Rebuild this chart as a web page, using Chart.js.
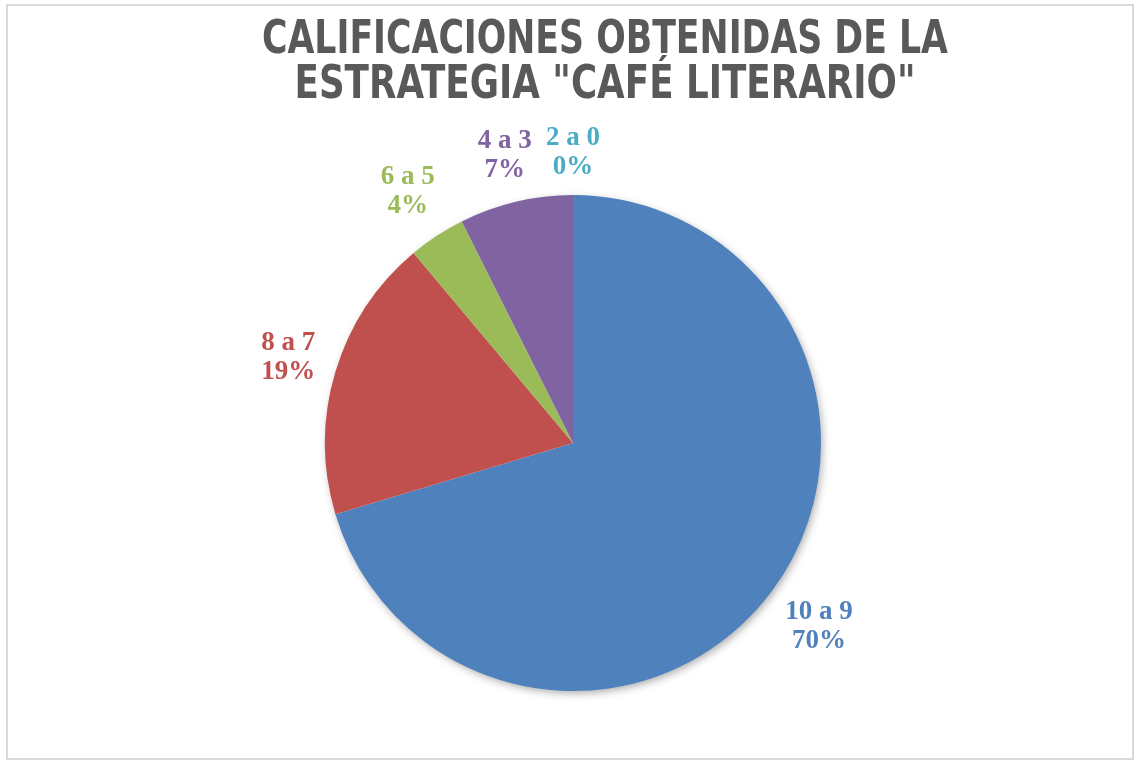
<!DOCTYPE html>
<html>
<head>
<meta charset="utf-8">
<script src="https://cdn.jsdelivr.net/npm/chart.js@4"></script>
<style>
  html, body { margin: 0; padding: 0; background: #fff; }
  #wrap { position: relative; width: 1139px; height: 761px; }
  #frame { position: absolute; left: 6px; top: 4px; width: 1124px; height: 752px; border: 2px solid #d9d9d9; box-sizing: content-box; pointer-events: none; }
</style>
</head>
<body>
<div id="wrap">
  <canvas id="pieChart"></canvas>
  <div id="frame"></div>
</div>
<script>
// Chart data
const categories = ['10 a 9', '8 a 7', '6 a 5', '4 a 3', '2 a 0'];
const counts = [19, 5, 1, 2, 0];
const sliceColors = ['#4F81BD', '#C0504D', '#9BBB59', '#8064A2', '#4BACC6'];
const titleLines = ['CALIFICACIONES OBTENIDAS DE LA', 'ESTRATEGIA "CAFÉ LITERARIO"'];

const total = counts.reduce((a, b) => a + b, 0);

// Title drawn by hand so both lines sit where the original has them
const titlePlugin = {
    id: 'twoLineTitle',
    afterDraw(chart) {
        const ctx = chart.ctx;
        ctx.save();
        ctx.fillStyle = '#595959';
        ctx.font = "bold 46px 'Liberation Sans Narrow', 'DejaVu Sans Condensed', sans-serif";
        ctx.textAlign = 'center';
        ctx.textBaseline = 'middle';
        ctx.fillText(titleLines[0], 605, 41, 686);
        ctx.fillText(titleLines[1], 605, 86, 621);
        ctx.restore();
    }
};

// Soft shadow under the whole pie
const shadowPlugin = {
    id: 'pieShadow',
    beforeDatasetsDraw(chart) {
        const arc = chart.getDatasetMeta(0).data[0];
        if (!arc) return;
        const { x, y, outerRadius } = arc.getProps(['x', 'y', 'outerRadius'], true);
        const ctx = chart.ctx;
        ctx.save();
        ctx.shadowColor = 'rgba(0, 0, 0, 0.35)';
        ctx.shadowBlur = 9;
        ctx.shadowOffsetX = 2;
        ctx.shadowOffsetY = 3;
        ctx.fillStyle = '#ffffff';
        ctx.beginPath();
        ctx.arc(x, y, outerRadius - 1, 0, Math.PI * 2);
        ctx.fill();
        ctx.restore();
    }
};

// Labels outside each slice: category name + percentage
const outsideLabels = {
    id: 'outsideLabels',
    afterDatasetsDraw(chart) {
        const ctx = chart.ctx;
        const meta = chart.getDatasetMeta(0);
        ctx.save();
        ctx.font = "bold 27px 'Liberation Serif', 'DejaVu Serif', serif";
        ctx.textAlign = 'center';
        ctx.textBaseline = 'middle';
        const lineH = 29;
        meta.data.forEach((arc, i) => {
            const p = arc.getProps(['x', 'y', 'startAngle', 'endAngle', 'outerRadius'], true);
            const mid = (p.startAngle + p.endAngle) / 2;
            const dx = Math.cos(mid), dy = Math.sin(mid);
            const pct = Math.round(counts[i] / total * 100) + '%';
            const w = Math.max(ctx.measureText(categories[i]).width, ctx.measureText(pct).width);
            const h = lineH * 2 - 6;
            const r = p.outerRadius + 16;
            const proj = Math.abs(dx) * w / 2 + Math.abs(dy) * h / 2;
            const cx = p.x + dx * (r + proj);
            const cy = p.y + dy * (r + proj);
            ctx.fillStyle = sliceColors[i];
            ctx.fillText(categories[i], cx, cy - lineH / 2);
            ctx.fillText(pct, cx, cy + lineH / 2);
        });
        ctx.restore();
    }
};

new Chart(document.getElementById('pieChart').getContext('2d'), {
    type: 'pie',
    data: {
        labels: categories,
        datasets: [{
            data: counts,
            backgroundColor: sliceColors,
            borderWidth: 0
        }]
    },
    options: {
        responsive: true,
        maintainAspectRatio: false,
        animation: false,
        layout: { padding: { top: 195, bottom: 70, left: 200, right: 193 } },
        plugins: {
            legend: { display: false },
            title: { display: false },
            tooltip: { enabled: false }
        }
    },
    plugins: [shadowPlugin, outsideLabels, titlePlugin]
});
</script>
</body>
</html>
